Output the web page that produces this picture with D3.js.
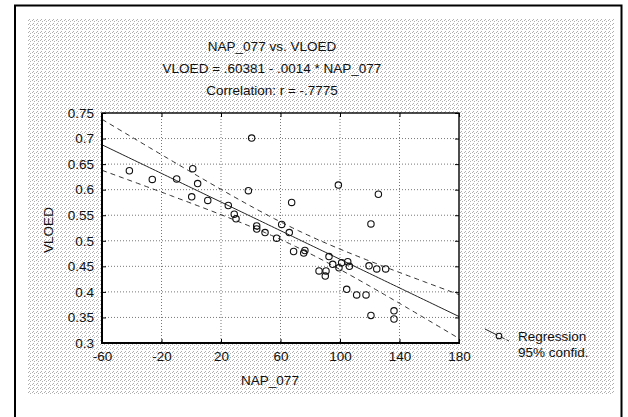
<!DOCTYPE html>
<html><head><meta charset="utf-8">
<script src="https://cdn.jsdelivr.net/npm/d3@7/dist/d3.min.js"></script>
<style>
body{margin:0;background:#fff}
svg{display:block}
text{font-family:"Liberation Sans",Arial,sans-serif;fill:#111}
</style></head>
<body><svg id="c" width="628" height="417"></svg>
<script>
const nap = [-41.6,-26.2,-9.8,1.0,4.3,0.3,11.1,24.9,28.9,30.1,38.4,40.6,44.0,44.0,49.6,57.4,60.8,65.9,67.5,68.8,75.6,76.4,85.9,90.6,90.1,92.6,95.1,99.3,101.1,105.2,106.3,98.9,104.5,111.2,117.5,119.5,124.7,130.7,120.8,120.8,125.8,136.3,136.3];
const vloed = [0.637,0.620,0.621,0.641,0.612,0.586,0.579,0.569,0.552,0.543,0.598,0.701,0.529,0.523,0.516,0.505,0.532,0.516,0.575,0.479,0.476,0.481,0.441,0.441,0.431,0.469,0.454,0.447,0.457,0.459,0.450,0.609,0.405,0.394,0.394,0.451,0.445,0.445,0.533,0.354,0.591,0.363,0.347];
const xTicks = [-60,-20,20,60,100,140,180];
const xTickLabels = ["-60","-20","20","60","100","140","180"];
const yTicks = [0.3,0.35,0.4,0.45,0.5,0.55,0.6,0.65,0.7,0.75];
const yTickLabels = ["0.3","0.35","0.4","0.45","0.5","0.55","0.6","0.65","0.7","0.75"];
const intercept = 0.60381, slope = -0.0014;
const titleLines = ["NAP_077 vs. VLOED","VLOED = .60381 - .0014 * NAP_077","Correlation: r = -.7775"];
const legendLabels = ["Regression","95% confid."];
const xTitle = "NAP_077", yTitle = "VLOED";

const svg = d3.select("#c");
const L=102, R=459, T=113, B=343;
const x = d3.scaleLinear().domain([-60,180]).range([L,R]);
const y = d3.scaleLinear().domain([0.3,0.75]).range([B,T]);
const FONT = "Liberation Sans, Arial, sans-serif";

// stipple pattern
const defs = svg.append("defs");
const pat = defs.append("pattern").attr("id","st").attr("width",4).attr("height",4).attr("patternUnits","userSpaceOnUse");
pat.append("rect").attr("width",4).attr("height",4).attr("fill","#fff");
[[0,0],[2,1],[1,3]].forEach(([a,b])=>pat.append("rect").attr("x",a).attr("y",b).attr("width",1).attr("height",1).attr("fill","#b0b0b0"));

svg.append("rect").attr("x",0).attr("y",0).attr("width",628).attr("height",417).attr("fill","#fff");
svg.append("rect").attr("x",28).attr("y",19).attr("width",586).attr("height",376).attr("fill","url(#st)");
// outer frame
svg.append("path").attr("d","M15,420 V5.5 H621.5 V420").attr("fill","none").attr("stroke","#000").attr("stroke-width",2);

// plot area
svg.append("rect").attr("x",L).attr("y",T).attr("width",R-L).attr("height",B-T).attr("fill","#fff");

// grid
const g = svg.append("g");
g.selectAll(".gx").data(xTicks.slice(1,-1)).join("line")
 .attr("x1",d=>x(d)).attr("x2",d=>x(d)).attr("y1",T).attr("y2",B)
 .attr("stroke","#777").attr("stroke-width",1).attr("stroke-dasharray","1,2");
g.selectAll(".gy").data(yTicks.slice(1,-1)).join("line")
 .attr("y1",d=>y(d)).attr("y2",d=>y(d)).attr("x1",L).attr("x2",R)
 .attr("stroke","#777").attr("stroke-width",1).attr("stroke-dasharray","1,2");

// regression + confidence
const n = nap.length;
const xbar = d3.mean(nap);
const Sxx = d3.sum(nap, v=>(v-xbar)**2);
const sse = d3.sum(nap.map((v,i)=>(vloed[i]-(intercept+slope*v))**2));
const s = Math.sqrt(sse/(n-2));
const tval = 2.02;
const hw = v => tval*s*Math.sqrt(1/n + (v-xbar)**2/Sxx);
const xs = d3.range(-60,180.01,2);
const clip = defs.append("clipPath").attr("id","pc");
clip.append("rect").attr("x",L).attr("y",T).attr("width",R-L).attr("height",B-T);
const line = d3.line().x(d=>x(d[0])).y(d=>y(d[1]));
const pg = svg.append("g").attr("clip-path","url(#pc)");
pg.append("path").attr("d",line(xs.map(v=>[v,intercept+slope*v]))).attr("fill","none").attr("stroke","#222").attr("stroke-width",1);
pg.append("path").attr("d",line(xs.map(v=>[v,intercept+slope*v+hw(v)]))).attr("fill","none").attr("stroke","#333").attr("stroke-width",1).attr("stroke-dasharray","5,4");
pg.append("path").attr("d",line(xs.map(v=>[v,intercept+slope*v-hw(v)]))).attr("fill","none").attr("stroke","#333").attr("stroke-width",1).attr("stroke-dasharray","5,4");

// points
svg.append("g").selectAll("circle").data(nap.map((v,i)=>[v,vloed[i]])).join("circle")
 .attr("cx",d=>x(d[0])).attr("cy",d=>y(d[1])).attr("r",3.2)
 .attr("fill","none").attr("stroke","#111").attr("stroke-width",1.1);

// axes frame
const ax = svg.append("g");
ax.append("g").attr("transform",`translate(0,${B})`).call(d3.axisBottom(x).tickValues(xTicks).tickSize(-4).tickFormat((d,i)=>xTickLabels[i]).tickPadding(8))
  .call(a=>{a.select(".domain").remove(); a.selectAll("text").attr("font-size",13.5).attr("fill","#111").attr("font-family",FONT);});
ax.append("g").attr("transform",`translate(${L},0)`).call(d3.axisLeft(y).tickValues(yTicks).tickSize(-4).tickFormat((d,i)=>yTickLabels[i]).tickPadding(8))
  .call(a=>{a.select(".domain").remove(); a.selectAll("text").attr("font-size",13.5).attr("fill","#111").attr("font-family",FONT);});
ax.append("g").attr("transform",`translate(0,${T})`).call(d3.axisTop(x).tickValues(xTicks).tickSize(-4).tickFormat(""))
  .call(a=>a.select(".domain").remove());
ax.append("g").attr("transform",`translate(${R},0)`).call(d3.axisRight(y).tickValues(yTicks).tickSize(-4).tickFormat(""))
  .call(a=>a.select(".domain").remove());
svg.append("rect").attr("x",L).attr("y",T).attr("width",R-L).attr("height",B-T).attr("fill","none").attr("stroke","#000").attr("stroke-width",1.4);
svg.append("line").attr("x1",L).attr("x2",L).attr("y1",T).attr("y2",B+1).attr("stroke","#000").attr("stroke-width",2);
svg.append("line").attr("x1",L-1).attr("x2",R+1).attr("y1",B).attr("y2",B).attr("stroke","#000").attr("stroke-width",2);

// titles
svg.selectAll(".tt").data(titleLines).join("text")
 .attr("x",272).attr("y",(d,i)=>51+i*22).attr("text-anchor","middle").attr("font-size",13.5).text(d=>d);
svg.append("text").attr("x",270).attr("y",385).attr("text-anchor","middle").attr("font-size",13.5).text(xTitle);
svg.append("text").attr("transform","translate(53,230) rotate(-90)").attr("text-anchor","middle").attr("font-size",13.5).text(yTitle);

// legend
const lg = svg.append("g");
lg.append("line").attr("x1",485).attr("y1",329).attr("x2",496).attr("y2",334.5).attr("stroke","#222").attr("stroke-width",1);
lg.append("circle").attr("cx",499).attr("cy",336).attr("r",2.8).attr("fill","none").attr("stroke","#111").attr("stroke-width",1.1);
lg.append("line").attr("x1",502).attr("y1",337.5).attr("x2",509).attr("y2",341).attr("stroke","#222").attr("stroke-width",1).attr("stroke-dasharray","3,2");
lg.selectAll(".lt").data(legendLabels).join("text")
 .attr("x",518).attr("y",(d,i)=>341+i*16).attr("font-size",13.5).text(d=>d);
</script></body></html>
